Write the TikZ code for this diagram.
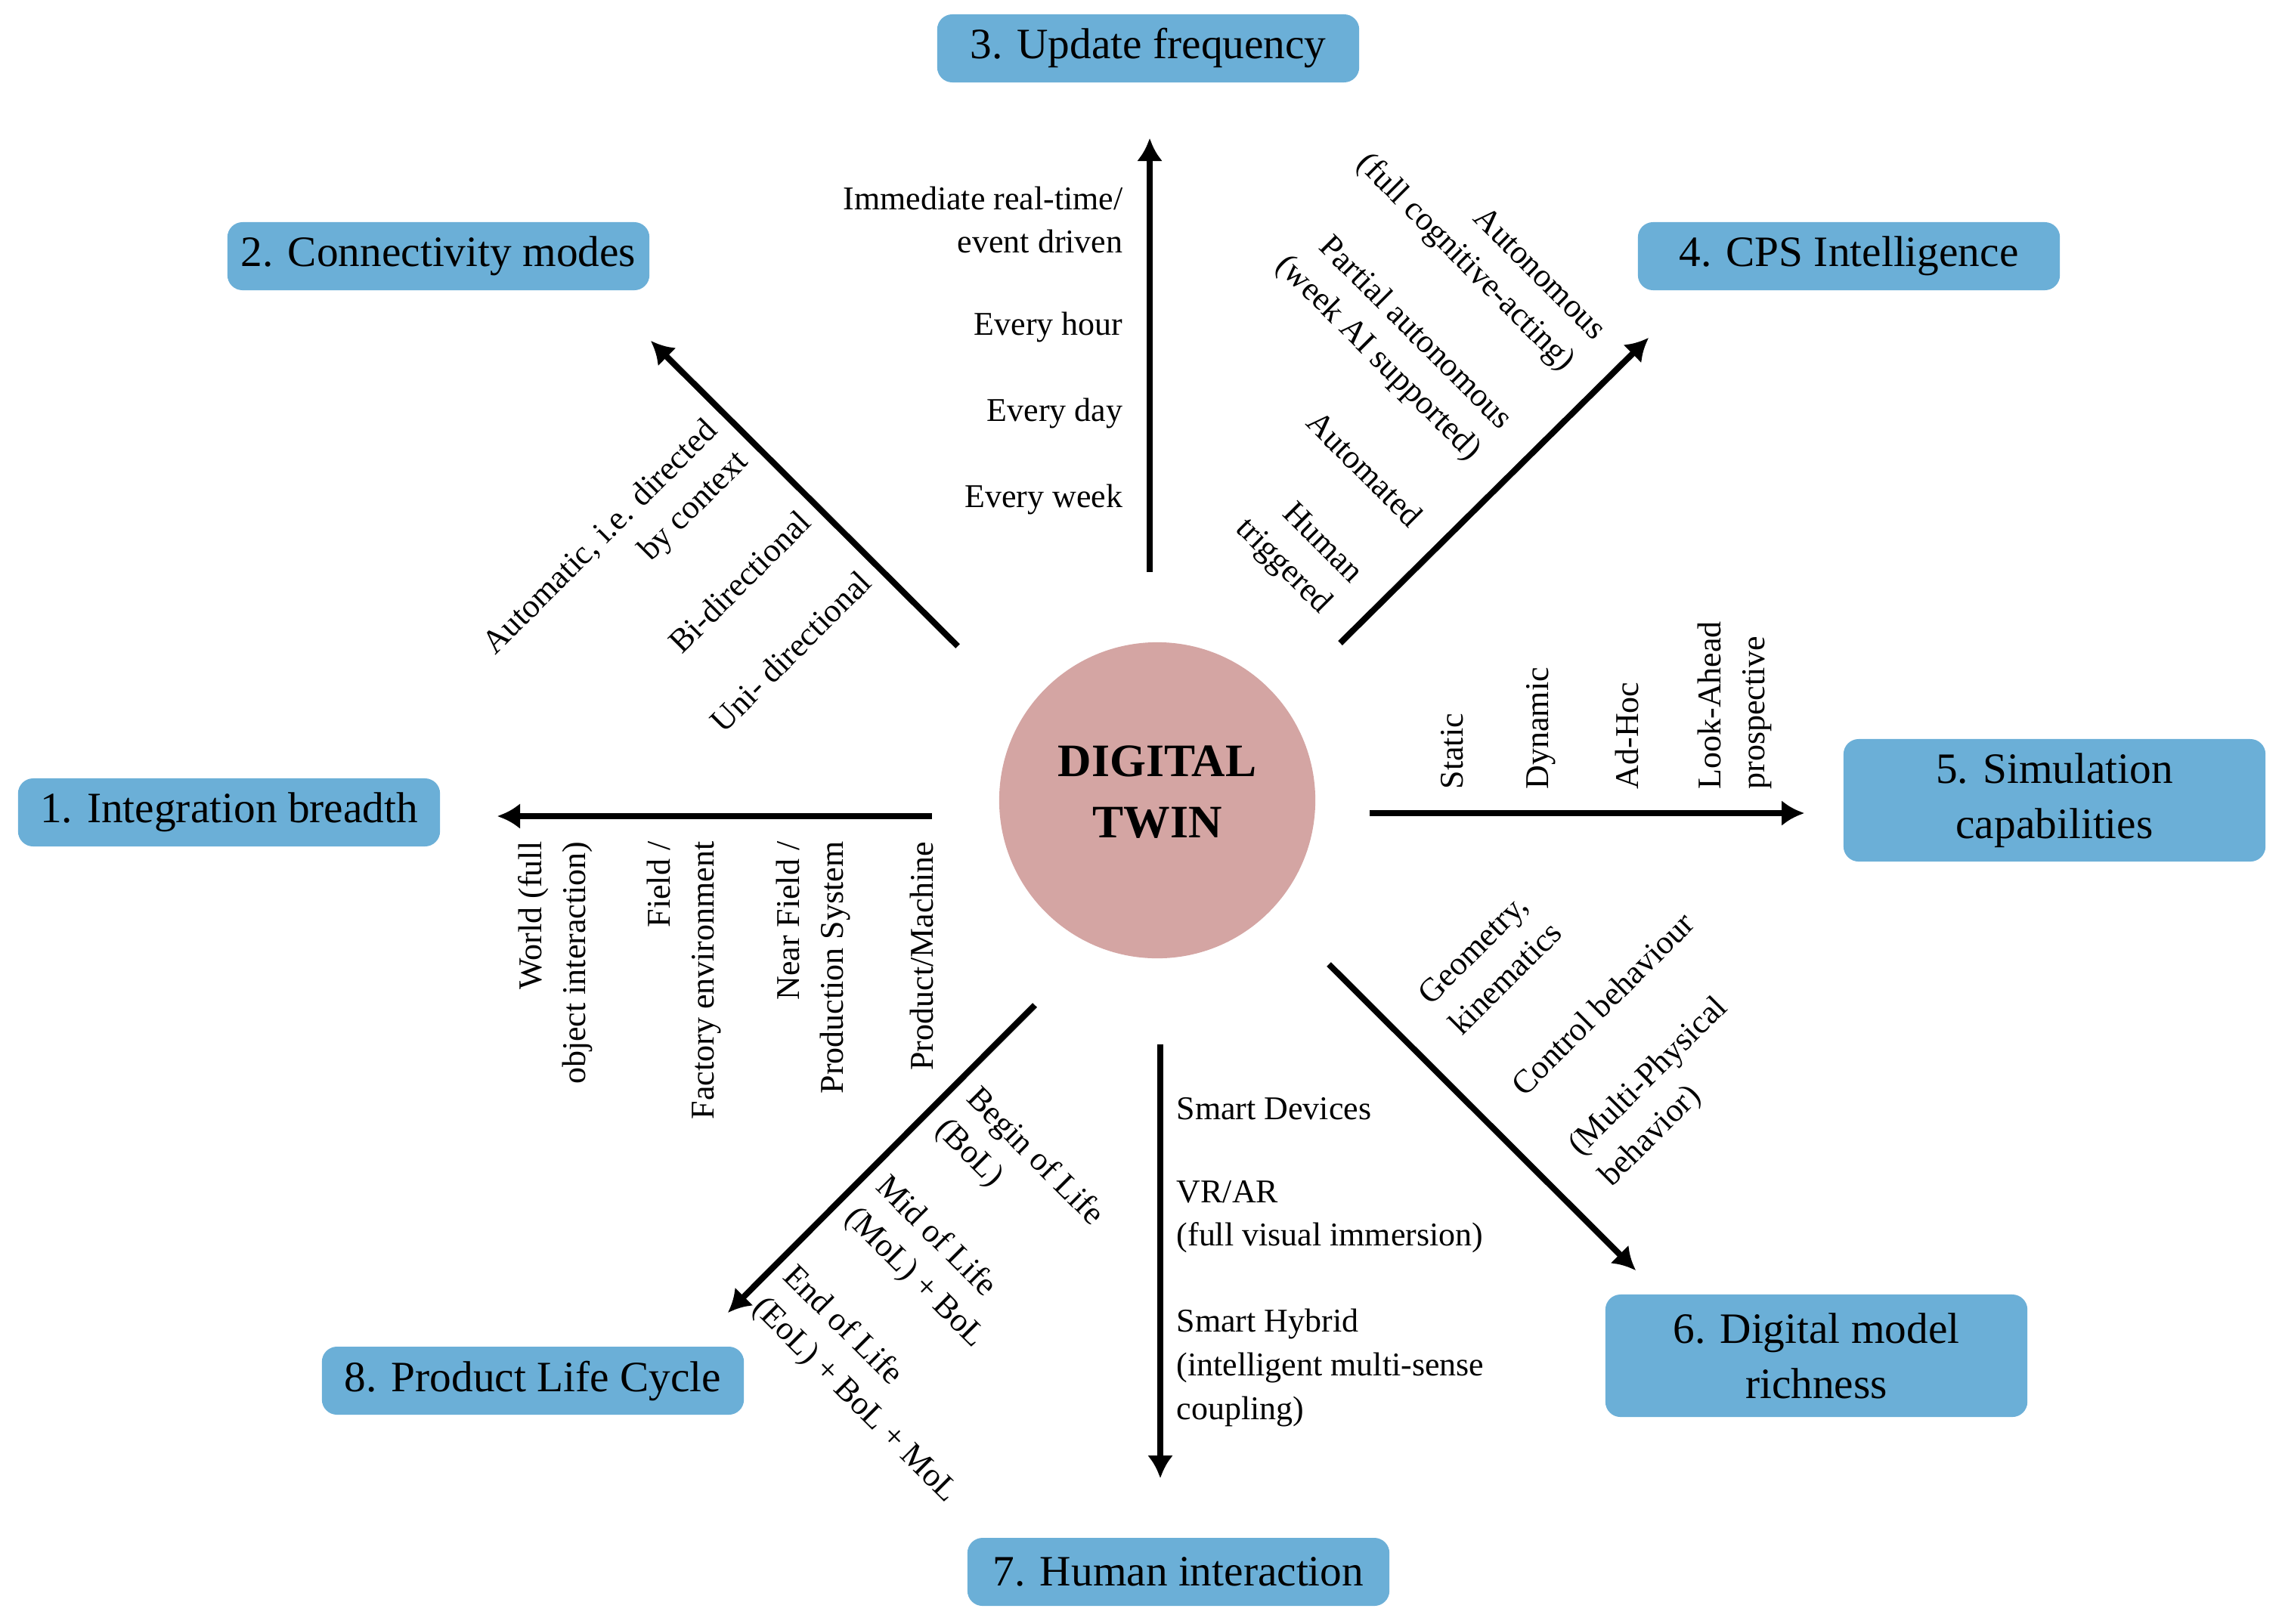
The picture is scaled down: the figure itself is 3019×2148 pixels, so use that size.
\documentclass[tikz,border=0pt]{standalone}
\usepackage{fontspec}
\setmainfont{Liberation Serif}
\usetikzlibrary{arrows.meta}
\definecolor{boxblue}{RGB}{107,175,215}
\definecolor{twinpink}{RGB}{212,165,163}
\begin{document}
\begin{tikzpicture}[x=0.01cm,y=-0.01cm,
  dim/.style={rectangle,rounded corners=0.2cm,fill=boxblue,minimum width=5.58cm,minimum height=0.9cm,inner sep=0pt,align=center,font=\fontsize{16.3}{20.7}\selectfont},
  dimtall/.style={dim,minimum height=1.62cm},
  axisarrow/.style={line width=2.3pt,-{Latex[width=0.34cm,length=0.3cm]}},
  lab/.style={font=\fontsize{12.5}{16.4}\selectfont,inner sep=0pt}
]
\useasboundingbox (0,0) rectangle (3019,2148);

% centre
\node[circle,fill=twinpink,minimum size=4.18cm,inner sep=0pt] (dt) at (1531,1059) {};
\node[align=center,inner sep=0pt,font=\bfseries\fontsize{17.5}{23}\selectfont] (dtt) at (1531,1048) {DIGITAL\\TWIN};

% dimension boxes
\node[dim] (b1) at (303,1075) {1. Integration breadth};
\node[dim] (b2) at (580,339) {2. Connectivity modes};
\node[dim] (b3) at (1519,64) {3. Update frequency};
\node[dim] (b4) at (2446,339) {4. CPS Intelligence};
\node[dimtall] (b5) at (2718,1059) {5. Simulation\\capabilities};
\node[dimtall] (b6) at (2403,1794) {6. Digital model\\richness};
\node[dim] (b7) at (1559,2080) {7. Human interaction};
\node[dim] (b8) at (705,1827) {8. Product Life Cycle};

% arrow end points
\coordinate (s1) at (1233,1080); \coordinate (e1) at (658,1080);
\coordinate (s2) at (1267,855);  \coordinate (e2) at (861,451);
\coordinate (s3) at (1521,757);  \coordinate (e3) at (1521,183);
\coordinate (s4) at (1773,851);  \coordinate (e4) at (2181,447);
\coordinate (s5) at (1812,1076); \coordinate (e5) at (2387,1076);
\coordinate (s6) at (1758,1276); \coordinate (e6) at (2164,1681);
\coordinate (s7) at (1535,1382); \coordinate (e7) at (1535,1956);
\coordinate (s8) at (1369,1330); \coordinate (e8) at (963,1737);

\draw[axisarrow] (s1) -- (e1);
\draw[axisarrow] (s2) -- (e2);
\draw[axisarrow] (s3) -- (e3);
\draw[axisarrow] (s4) -- (e4);
\draw[axisarrow] (s5) -- (e5);
\draw[axisarrow] (s6) -- (e6);
\draw[axisarrow] (s7) -- (e7);
\draw[axisarrow] (s8) -- (e8);

% 1. Integration breadth
\node[lab,rotate=90,anchor=east,align=right] (l11) at (735,1113) {World (full\\object interaction)};
\node[lab,rotate=90,anchor=east,align=right] (l12) at (905,1113) {Field /\\Factory environment};
\node[lab,rotate=90,anchor=east,align=right] (l13) at (1076,1113) {Near Field /\\Production System};
\node[lab,rotate=90,anchor=east,align=right] (l14) at (1219,1113) {Product/Machine};

% 2. Connectivity modes
\node[lab,rotate=45,align=right] (l21) at (816,733) {Automatic, i.e. directed\\by context};
\node[lab,rotate=45] (l22) at (978,770) {Bi-directional};
\node[lab,rotate=45] (l23) at (1046,862) {Uni- directional};

% 3. Update frequency
\node[lab,anchor=east,align=right] (l31) at (1486,291) {Immediate real-time/\\event driven};
\node[lab,anchor=east] (l32) at (1486,433) {Every hour};
\node[lab,anchor=east] (l33) at (1486,547) {Every day};
\node[lab,anchor=east] (l34) at (1486,661) {Every week};

% 4. CPS Intelligence
\node[lab,rotate=-45,align=right] (l41) at (1958,328) {Autonomous\\(full cognitive-acting)};
\node[lab,rotate=-45,align=right] (l42) at (1843,454) {Partial autonomous\\(week AI supported)};
\node[lab,rotate=-45] (l43) at (1806,620) {Automated};
\node[lab,rotate=-45,align=right] (l44) at (1717,730) {Human\\triggered};

% 5. Simulation capabilities
\node[lab,rotate=90,anchor=west] (l51) at (1921,1045) {Static};
\node[lab,rotate=90,anchor=west] (l52) at (2039,1045) {Dynamic};
\node[lab,rotate=90,anchor=west] (l53) at (2152,1045) {Ad-Hoc};
\node[lab,rotate=90,anchor=west,align=left] (l54) at (2295,1045) {Look-Ahead\\prospective};

% 6. Digital model richness
\node[lab,rotate=45,align=left] (l61) at (1971,1274) {Geometry,\\kinematics};
\node[lab,rotate=45] (l62) at (2120,1328) {Control behaviour};
\node[lab,rotate=45,align=left] (l63) at (2202,1446) {(Multi-Physical\\behavior)};

% 7. Human interaction
\node[lab,anchor=west] (l71) at (1556,1467) {Smart Devices};
\node[lab,anchor=west,align=left] (l72) at (1556,1610) {VR/AR\\(full visual immersion)};
\node[lab,anchor=west,align=left] (l73) at (1556,1810) {Smart Hybrid\\(intelligent multi-sense\\coupling)};

% 8. Product Life Cycle
\node[lab,rotate=-45,align=left] (l81) at (1348,1552) {Begin of Life\\(BoL)};
\node[lab,rotate=-45,align=left] (l82) at (1230,1671) {Mid of Life\\(MoL) + BoL};
\node[lab,rotate=-45,align=left] (l83) at (1151,1833) {End of Life\\(EoL) + BoL + MoL};
\end{tikzpicture}
\end{document}
